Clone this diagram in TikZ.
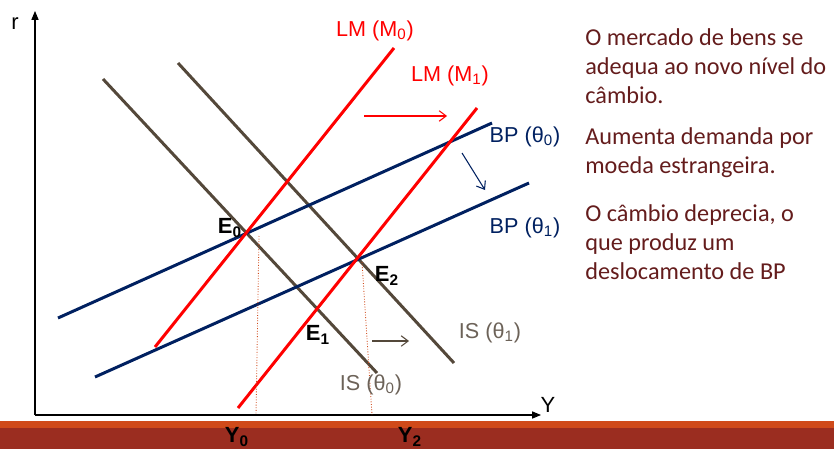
\documentclass[tikz,border=0pt]{standalone}
\usepackage{fontspec}
\setmainfont{Liberation Sans}
\newfontfamily\notefont{Carlito}
\usetikzlibrary{arrows.meta}

\definecolor{lmred}{RGB}{255,0,0}
\definecolor{bpblue}{RGB}{0,32,96}
\definecolor{isbrown}{RGB}{84,72,58}
\definecolor{islabel}{RGB}{108,98,88}
\definecolor{notebrown}{RGB}{100,28,28}
\definecolor{bandorange}{RGB}{208,74,26}
\definecolor{bandred}{RGB}{155,45,32}

\begin{document}
\begin{tikzpicture}[
  x=0.02cm, y=-0.02cm,
  curve/.style={line width=1.7pt},
  axis/.style={line width=0.6pt, -{Triangle[length=5pt,width=4pt]}},
  moveline/.style={line width=0.6pt, -{Straight Barb[length=4pt,width=6pt]}},
  guide/.style={bandorange, line width=0.5pt, densely dotted},
  lbl/.style={font=\fontsize{12.3}{14}\selectfont, inner sep=0pt},
  pt/.style={font=\fontsize{12.5}{14}\selectfont\bfseries, inner sep=0pt},
  note/.style={font=\notefont\fontsize{13.8}{16.6}\selectfont, text=notebrown,
               align=left, anchor=north west, inner sep=0pt}
]
\useasboundingbox (0,0) rectangle (834,449);

% bottom band
\fill[bandorange] (0,421) rectangle (834,428);
\fill[bandred] (0,428) rectangle (834,449);

% axes
\coordinate (o) at (35,415);
\coordinate (rtop) at (35,11);
\coordinate (yend) at (541,415);
\draw[axis] (o) -- (rtop);
\draw[axis] (o) -- (yend);
\node[lbl, font=\fontsize{12.5}{14}\selectfont] (r) at (15,24) {r};
\node[lbl, font=\fontsize{12.5}{14}\selectfont] (yax) at (548,405) {Y};

% curves
\coordinate (is0a) at (103,79);   \coordinate (is0b) at (377,373);
\coordinate (is1a) at (178,63);   \coordinate (is1b) at (454,363);
\coordinate (lm0a) at (394,48);   \coordinate (lm0b) at (155,347);
\coordinate (lm1a) at (477,108);  \coordinate (lm1b) at (238,408);
\coordinate (bp0a) at (58,318);   \coordinate (bp0b) at (492,123);
\coordinate (bp1a) at (95,377);   \coordinate (bp1b) at (529,183);

\draw[curve, isbrown] (is0a) -- (is0b);
\draw[curve, isbrown] (is1a) -- (is1b);
\draw[curve, bpblue] (bp0a) -- (bp0b);
\draw[curve, bpblue] (bp1a) -- (bp1b);
\draw[curve, lmred] (lm0a) -- (lm0b);
\draw[curve, lmred] (lm1a) -- (lm1b);

% guides to the Y axis
\coordinate (g0a) at (259,236);  \coordinate (g0b) at (256,415);
\coordinate (g2a) at (362,262);  \coordinate (g2b) at (372,415);
\draw[guide] (g0a) -- (g0b);
\draw[guide] (g2a) -- (g2b);

% shift arrows
\coordinate (lmsa) at (364,116);  \coordinate (lmsb) at (447,116);
\coordinate (bpsa) at (462,153);  \coordinate (bpsb) at (485,190);
\coordinate (issa) at (372,341);  \coordinate (issb) at (409,341);
\draw[moveline, lmred] (lmsa) -- (lmsb);
\draw[moveline, bpblue] (bpsa) -- (bpsb);
\draw[moveline, isbrown] (issa) -- (issb);

% curve labels
\node[lbl, text=lmred] (lm0) at (375,31) {LM (M\textsubscript{0})};
\node[lbl, text=lmred] (lm1) at (450,76) {LM (M\textsubscript{1})};
\node[lbl, text=bpblue] (bp0) at (525,137) {BP (θ\textsubscript{0})};
\node[lbl, text=bpblue] (bp1) at (525,228) {BP (θ\textsubscript{1})};
\node[lbl, text=islabel] (is1) at (490,333) {IS (θ\textsubscript{1})};
\node[lbl, text=islabel] (is0) at (371,385) {IS (θ\textsubscript{0})};

% equilibria
\node[pt] (e0) at (230,228) {E\textsubscript{0}};
\node[pt] (e1) at (318,335) {E\textsubscript{1}};
\node[pt] (e2) at (387,276) {E\textsubscript{2}};
\node[pt] (y0) at (237,437) {Y\textsubscript{0}};
\node[pt] (y2) at (410,437) {Y\textsubscript{2}};

% side notes
\node[note] (n1) at (585,28) {O mercado de bens se\\adequa ao novo nível do\\câmbio.};
\node[note] (n2) at (585,127) {Aumenta demanda por\\moeda estrangeira.};
\node[note] (n3) at (585,204) {O câmbio deprecia, o\\que produz um\\deslocamento de BP};
\end{tikzpicture}
\end{document}
